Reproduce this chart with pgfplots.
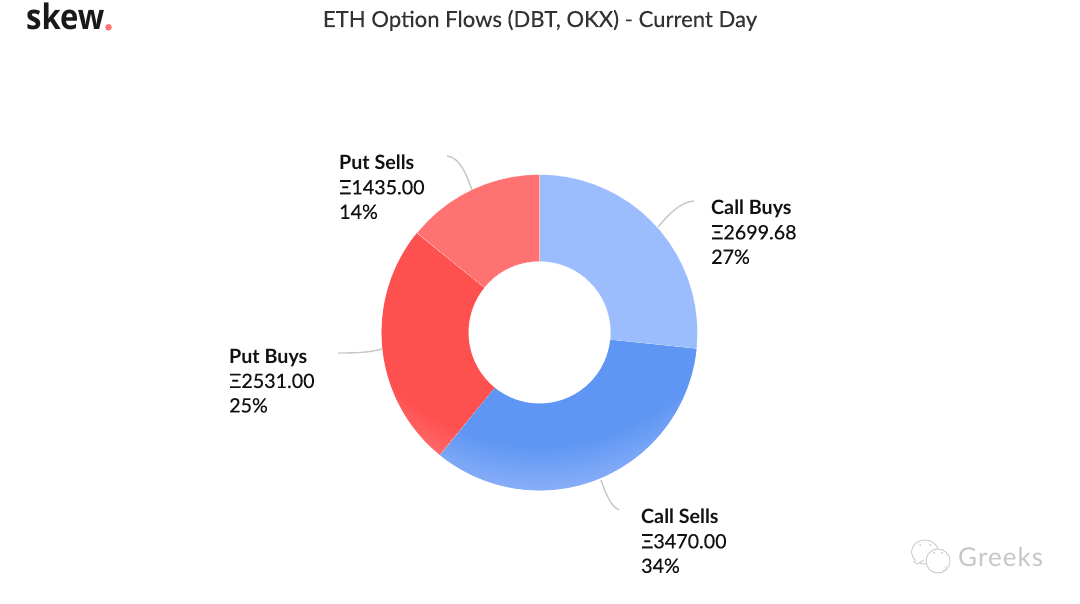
\documentclass[border=0pt]{standalone}
\usepackage{pgfplots}
\pgfplotsset{compat=1.18}
\usepgfplotslibrary{polar}
\usepackage{fontspec}
\setmainfont{Lato}
\newfontfamily\logofont{Open Sans}
\newfontfamily\medfont[FakeBold=0.25]{Lato}
\definecolor{cb}{HTML}{9BBCFD}
\definecolor{cs}{HTML}{5F96F3}
\definecolor{csl}{HTML}{8AB0F8}
\definecolor{pb}{HTML}{FF5050}
\definecolor{pbl}{HTML}{FF7878}
\definecolor{ps}{HTML}{FF7272}
\definecolor{ln}{HTML}{C8C8C8}
\definecolor{ttl}{HTML}{333333}
\definecolor{txt}{HTML}{111111}
\definecolor{wm}{HTML}{C6C6C6}
\pgfdeclareradialshading{csgrad}{\pgfpoint{0bp}{0bp}}{color(0bp)=(cs); color(20.5bp)=(cs); color(25bp)=(csl); color(50bp)=(csl)}
\pgfdeclareradialshading{pbgrad}{\pgfpoint{0bp}{0bp}}{color(0bp)=(pb); color(20.5bp)=(pb); color(25bp)=(pbl); color(50bp)=(pbl)}
\newcommand{\lab}[5]{\node[anchor=north west,inner sep=0pt,align=left,text=txt,font=\fontsize{19.7}{24.5}\selectfont] at (#1pt,#2pt) {\textbf{#3}\\ \medfont Ξ#4\\ \medfont #5};}
\begin{document}
\begin{tikzpicture}[x=1pt,y=1pt]
\path[use as bounding box] (0,0) rectangle (1080,603);
\begin{polaraxis}[
  at={(539.5pt,270.5pt)}, anchor=center,
  scale only axis, width=316pt, height=316pt,
  xmin=0, xmax=360, ymin=0, ymax=158,
  hide axis, clip=false,
]
% Call Buys 2699.68
\addplot[fill=cb,draw=white,line width=0.25pt] coordinates {
(90,158)(85,158)(80,158)(75,158)(70,158)(65,158)(60,158)(55,158)(50,158)(45,158)(40,158)(35,158)(30,158)(25,158)(20,158)(15,158)(10,158)(5,158)(0,158)(-5,158)(-5.89,158)
(-5.89,71)(-5,71)(0,71)(5,71)(10,71)(15,71)(20,71)(25,71)(30,71)(35,71)(40,71)(45,71)(50,71)(55,71)(60,71)(65,71)(70,71)(75,71)(80,71)(85,71)(90,71)(90,158)};
% Call Sells 3470.00
\addplot[fill=cs,draw=white,line width=0.25pt] coordinates {
(-5.89,158)(-10,158)(-15,158)(-20,158)(-25,158)(-30,158)(-35,158)(-40,158)(-45,158)(-50,158)(-55,158)(-60,158)(-65,158)(-70,158)(-75,158)(-80,158)(-85,158)(-90,158)(-95,158)(-100,158)(-105,158)(-110,158)(-115,158)(-120,158)(-125,158)(-129.14,158)
(-129.14,71)(-125,71)(-120,71)(-115,71)(-110,71)(-105,71)(-100,71)(-95,71)(-90,71)(-85,71)(-80,71)(-75,71)(-70,71)(-65,71)(-60,71)(-55,71)(-50,71)(-45,71)(-40,71)(-35,71)(-30,71)(-25,71)(-20,71)(-15,71)(-10,71)(-5.89,71)(-5.89,158)};
% Put Buys 2531.00
\addplot[fill=pb,draw=white,line width=0.25pt] coordinates {
(-129.14,158)(-135,158)(-140,158)(-145,158)(-150,158)(-155,158)(-160,158)(-165,158)(-170,158)(-175,158)(-180,158)(-185,158)(-190,158)(-195,158)(-200,158)(-205,158)(-210,158)(-215,158)(-219.04,158)
(-219.04,71)(-215,71)(-210,71)(-205,71)(-200,71)(-195,71)(-190,71)(-185,71)(-180,71)(-175,71)(-170,71)(-165,71)(-160,71)(-155,71)(-150,71)(-145,71)(-140,71)(-135,71)(-129.14,71)(-129.14,158)};
% Put Sells 1435.00
\addplot[fill=ps,draw=white,line width=0.25pt] coordinates {
(-219.04,158)(-225,158)(-230,158)(-235,158)(-240,158)(-245,158)(-250,158)(-255,158)(-260,158)(-265,158)(-270,158)
(-270,71)(-265,71)(-260,71)(-255,71)(-250,71)(-245,71)(-240,71)(-235,71)(-230,71)(-225,71)(-219.04,71)(-219.04,158)};
\end{polaraxis}
% soft light at the lower rim of the two large slices
\begin{scope}[shift={(539.5,270.5)}]
\begin{scope}
\clip (-5.95:157.8) arc[start angle=-5.95,end angle=-129,radius=157.8] -- (-129:71.2) arc[start angle=-129,end angle=-5.95,radius=71.2] -- cycle;
\shade[shading=csgrad] (0,102) circle[radius=262];
\end{scope}
\begin{scope}
\clip (-129.3:157.8) arc[start angle=-129.3,end angle=-218.9,radius=157.8] -- (-218.9:71.2) arc[start angle=-218.9,end angle=-129.3,radius=71.2] -- cycle;
\shade[shading=pbgrad] (0,102) circle[radius=262];
\end{scope}
\end{scope}
% title and logo
\node[anchor=base,text=ttl,font=\medfont\fontsize{22.1}{26}\selectfont] at (540,576) {ETH Option Flows (DBT, OKX) - Current Day};
\node[anchor=base west,inner sep=0pt,xscale=0.885,font=\logofont\bfseries\fontsize{35}{40}\selectfont,text=black!90] at (26,573) {skew};
\fill[ps] (108.5,575.7) circle (3.3);
% leader lines
\begin{scope}[ln,line width=1.4pt]
\draw (658,376) .. controls (668,388) and (680,401) .. (694,402);
\draw (601,123) .. controls (606,108) and (611,97) .. (619,93);
\draw (382,254) .. controls (368,250) and (352,250) .. (338,250);
\draw (472,413) .. controls (466,430) and (459,446) .. (447,447);
\end{scope}
% labels
\lab{711}{403}{Call Buys}{2699.68}{27\%}
\lab{641}{94}{Call Sells}{3470.00}{34\%}
\lab{229}{254}{Put Buys}{2531.00}{25\%}
\lab{339}{448}{Put Sells}{1435.00}{14\%}
% watermark
\begin{scope}[wm,line width=0.8pt]
\draw (925,51) ellipse (13.5 and 12);
\draw[fill=white] (913,42) -- (917,39) -- (924,43);
\draw[fill=white] (938,42) circle (12);
\draw[fill=white] (943,32) -- (946,33) -- (946,37);
\fill (920,58) circle (1) (930,58) circle (1) (934,50) circle (1) (942,50) circle (1);
\end{scope}
\node[anchor=base west,inner sep=0pt,text=wm,font=\fontsize{26}{30}\selectfont\addfontfeature{LetterSpace=4}] at (958,36.3) {Greeks};
\end{tikzpicture}
\end{document}
